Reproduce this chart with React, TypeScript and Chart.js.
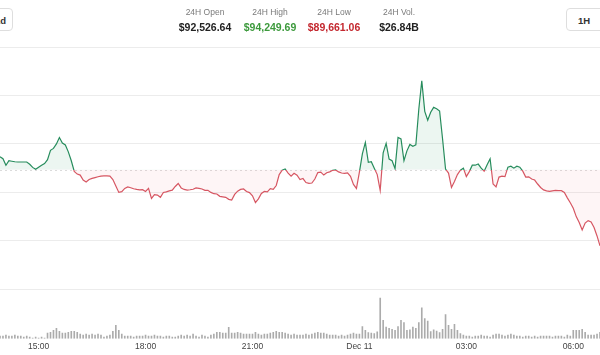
import { useEffect, useRef } from "react";
import { Chart, registerables } from "chart.js";

Chart.register(...registerables);

const OPEN = 92526.64;
const START_MIN = 13 * 60 + 55; // first sample 13:55 (Dec 10)
const STEP_MIN = 5;

const prices = [
  92776, 92738, 92613, 92699, 92690, 92680, 92675, 92675, 92675, 92675,
  92632, 92571, 92533, 92575, 92613, 92646, 92719, 92901, 92939, 93025,
  93150, 93044, 93006, 92872, 92699, 92494, 92441, 92422, 92326, 92287,
  92335, 92358, 92374, 92389, 92402, 92406, 92406, 92402, 92335, 92211,
  92086, 92100, 92163, 92192, 92176, 92157, 92144, 92134, 92140, 92105,
  92163, 91971, 92044, 92035, 91991, 92086, 92096, 92115, 92130, 92201,
  92259, 92173, 92144, 92130, 92138, 92148, 92173, 92163, 92153, 92125,
  92128, 92086, 92061, 92056, 92010, 92000, 91991, 91952, 91939, 92048,
  92111, 92144, 92153, 92105, 92082, 92019, 91889, 91962, 92067, 92105,
  92096, 92159, 92144, 92220, 92431, 92517, 92540, 92460, 92402, 92456,
  92418, 92335, 92355, 92278, 92263, 92268, 92345, 92470, 92479, 92422,
  92466, 92485, 92514, 92521, 92483, 92462, 92454, 92466, 92397, 92240,
  92163, 92479, 92834, 93054, 92671, 92680, 92556, 92431, 92125, 92853,
  93035, 92732, 92699, 92546, 93150, 93121, 92699, 92891, 93016, 92981,
  93006, 93696, 94249.69, 93657, 93485, 93638, 93734, 93705, 93663, 93121,
  92540, 92460, 92182, 92297, 92431, 92517, 92556, 92393, 92489, 92613,
  92613, 92636, 92556, 92498, 92623, 92738, 92249, 92192, 92383, 92402,
  92393, 92575, 92594, 92556, 92594, 92575, 92498, 92383, 92387, 92345,
  92326, 92249, 92182, 92134, 92115, 92105, 92115, 92125, 92119, 92119,
  92086, 91981, 91885, 91780, 91617, 91502, 91358, 91492, 91540, 91515,
  91406, 91243, 91052,
];

// volume per 5-min bar, millions USD
const volumes = [
  56, 56, 74, 56, 56, 74, 56, 56, 37, 56,
  37, 19, 37, 19, 37, 19, 112, 130, 167, 205,
  149, 112, 112, 130, 149, 149, 130, 93, 74, 93,
  74, 93, 74, 93, 74, 37, 56, 74, 149, 260,
  167, 93, 56, 56, 56, 37, 56, 56, 56, 74,
  56, 56, 74, 56, 56, 37, 56, 56, 37, 37,
  56, 74, 56, 74, 56, 93, 56, 37, 74, 56,
  37, 74, 93, 130, 130, 112, 112, 223, 112, 112,
  130, 112, 93, 93, 93, 93, 130, 93, 74, 93,
  93, 112, 130, 149, 130, 130, 112, 93, 74, 93,
  74, 74, 74, 93, 74, 93, 112, 130, 112, 112,
  93, 74, 74, 74, 56, 74, 56, 74, 93, 112,
  93, 93, 236, 167, 125, 112, 106, 136, 776, 353,
  229, 205, 186, 167, 236, 353, 311, 167, 173, 229,
  205, 311, 590, 385, 340, 143, 173, 154, 125, 186,
  465, 260, 186, 279, 167, 106, 74, 56, 56, 37,
  56, 56, 74, 56, 56, 37, 74, 93, 93, 74,
  56, 74, 93, 74, 56, 56, 37, 56, 56, 37,
  56, 37, 56, 56, 56, 56, 37, 56, 56, 56,
  37, 74, 56, 167, 167, 167, 186, 130, 74, 74,
  74, 93, 130,
];

const tickTimes = ["15:00", "18:00", "21:00", "00:00", "03:00", "06:00"];
const tickLabels = ["15:00", "18:00", "21:00", "Dec 11", "03:00", "06:00"];

// price axis frame and grid lines
const PRICE_MAX = 94902.8;
const PRICE_MIN = 89250.6;
const gridValues = [94902.8, 93964.0, 93025.2, 92086.4, 91147.6, 90208.8];
const VOL_MAX = 5500;

const statLabels = ["24H Open", "24H High", "24H Low", "24H Vol."];
const statValues = ["$92,526.64", "$94,249.69", "$89,661.06", "$26.84B"];
const statColors = ["#222222", "#3d9a3d", "#c4282f", "#222222"];
const statCenters = [205, 270, 334, 399];

const GREEN = "rgb(38,140,92)";
const RED = "rgb(214,86,98)";

const pad = (n: number) => (n < 10 ? "0" + n : "" + n);
const categories = prices.map((_, i) => {
  const m = (START_MIN + i * STEP_MIN) % 1440;
  return pad(Math.floor(m / 60)) + ":" + pad(m % 60);
});

const FONT = '"Liberation Sans", Arial, Helvetica, sans-serif';

const baselinePlugin = {
  id: "baselineLine",
  beforeDatasetsDraw(chart: any) {
    const { ctx, chartArea, scales } = chart;
    const y = Math.round(scales.y.getPixelForValue(OPEN)) + 0.5;
    ctx.save();
    ctx.strokeStyle = "rgba(0,0,0,0.14)";
    ctx.lineWidth = 1;
    ctx.setLineDash([2, 3]);
    ctx.beginPath();
    ctx.moveTo(chartArea.left, y);
    ctx.lineTo(chartArea.right, y);
    ctx.stroke();
    ctx.restore();
  },
};

function splitStroke(context: any) {
  const chart = context.chart;
  const { chartArea, scales } = chart;
  if (!chartArea) return GREEN;
  const y = scales.y.getPixelForValue(OPEN);
  const f = Math.min(1, Math.max(0, (y - chartArea.top) / (chartArea.bottom - chartArea.top)));
  const g = chart.ctx.createLinearGradient(0, chartArea.top, 0, chartArea.bottom);
  g.addColorStop(0, GREEN);
  g.addColorStop(f, GREEN);
  g.addColorStop(f, RED);
  g.addColorStop(1, RED);
  return g;
}

function PriceChart() {
  const ref = useRef<HTMLCanvasElement | null>(null);
  useEffect(() => {
    if (!ref.current) return;
    const chart = new Chart(ref.current, {
      data: {
        labels: categories,
        datasets: [
          {
            type: "line",
            data: prices,
            yAxisID: "y",
            borderColor: splitStroke,
            borderWidth: 1.2,
            pointRadius: 0,
            tension: 0,
            fill: {
              target: { value: OPEN },
              above: "rgba(46,160,100,0.09)",
              below: "rgba(232,90,100,0.06)",
            },
            order: 0,
          } as any,
          {
            type: "bar",
            data: volumes,
            yAxisID: "yv",
            backgroundColor: "rgba(150,150,150,0.8)",
            barPercentage: 0.55,
            categoryPercentage: 1,
            order: 1,
          } as any,
        ],
      },
      options: {
        animation: false,
        responsive: true,
        maintainAspectRatio: false,
        layout: { padding: { top: 47, left: 0, right: 0, bottom: 0 } },
        plugins: { legend: { display: false }, tooltip: { enabled: false } },
        scales: {
          x: {
            type: "category",
            offset: false,
            grid: { display: false, drawTicks: false },
            border: { display: false },
            ticks: {
              autoSkip: false,
              maxRotation: 0,
              padding: 3,
              color: "#444",
              font: { family: FONT, size: 8.5 },
              callback: (_v: any, index: number) => {
                const k = tickTimes.indexOf(categories[index]);
                return k >= 0 ? tickLabels[k] : null;
              },
            },
          },
          y: {
            position: "left",
            min: PRICE_MIN,
            max: PRICE_MAX,
            grid: { color: "#ececec", lineWidth: 1, drawTicks: false },
            border: { display: false },
            ticks: { display: false },
            afterBuildTicks: (axis: any) => {
              axis.ticks = gridValues.map((v) => ({ value: v }));
            },
          },
          yv: {
            position: "right",
            display: false,
            min: 0,
            max: VOL_MAX,
          },
        },
      } as any,
      plugins: [baselinePlugin],
    });
    return () => chart.destroy();
  }, []);
  return <canvas ref={ref} />;
}

export default function App() {
  return (
    <div
      style={{
        position: "absolute",
        left: 0,
        top: 0,
        width: 600,
        height: 355,
        background: "#fff",
        overflow: "hidden",
        fontFamily: FONT,
      }}
    >
      <div style={{ position: "absolute", left: 0, top: 0, width: 600, height: 355 }}>
        <PriceChart />
      </div>
      <div
        style={{
          position: "absolute",
          left: -21,
          top: 8,
          width: 34,
          height: 23,
          border: "1px solid #dedede",
          borderRadius: 4,
          background: "#fff",
          fontSize: 9.5,
          fontWeight: 600,
          color: "#333",
          lineHeight: "23px",
          textAlign: "right",
          paddingRight: 6,
          boxSizing: "border-box",
        }}
      >
        1d
      </div>
      <div
        style={{
          position: "absolute",
          left: 566,
          top: 8,
          width: 40,
          height: 23,
          border: "1px solid #dedede",
          borderRadius: 4,
          background: "#fff",
          fontSize: 9.5,
          fontWeight: 600,
          color: "#333",
          lineHeight: "23px",
          paddingLeft: 11,
          boxSizing: "border-box",
        }}
      >
        1H
      </div>
      {statLabels.map((lab, i) => (
        <div key={lab}>
          <div
            style={{
              position: "absolute",
              left: statCenters[i] - 45,
              width: 90,
              top: 7,
              textAlign: "center",
              fontSize: 8.5,
              lineHeight: "10px",
              color: "#7a7a7a",
            }}
          >
            {lab}
          </div>
          <div
            style={{
              position: "absolute",
              left: statCenters[i] - 45,
              width: 90,
              top: 20.5,
              textAlign: "center",
              fontSize: 10.5,
              lineHeight: "12px",
              fontWeight: 700,
              color: statColors[i],
            }}
          >
            {statValues[i]}
          </div>
        </div>
      ))}
    </div>
  );
}
